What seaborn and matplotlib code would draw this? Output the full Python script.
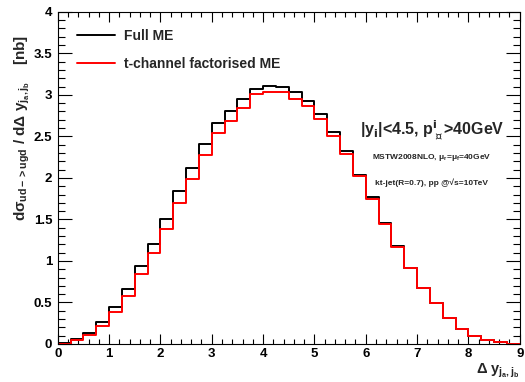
import numpy as np
import pandas as pd
import matplotlib
matplotlib.use("Agg")
import matplotlib.pyplot as plt
from matplotlib.lines import Line2D
from matplotlib.ticker import MultipleLocator
import seaborn as sns

# ---------------- data -----------------------------------------
bin_edges = np.arange(0, 9.001, 0.25)          # 36 bins of width 0.25 in delta y
full_me = [0.01, 0.06, 0.13, 0.27, 0.45, 0.66, 0.94, 1.20, 1.51, 1.84,
           2.12, 2.41, 2.66, 2.80, 2.95, 3.07, 3.11, 3.10, 3.03, 2.93,
           2.77, 2.55, 2.33, 2.03, 1.77, 1.46, 1.18, 0.91, 0.68, 0.49,
           0.31, 0.18, 0.10, 0.05, 0.02, 0.005]
tchan_me = [0.005, 0.05, 0.11, 0.22, 0.39, 0.58, 0.84, 1.09, 1.39, 1.70,
            1.99, 2.28, 2.54, 2.69, 2.84, 3.01, 3.03, 3.04, 2.95, 2.87,
            2.71, 2.50, 2.29, 2.02, 1.75, 1.45, 1.17, 0.91, 0.68, 0.49,
            0.31, 0.18, 0.10, 0.05, 0.02, 0.005]
series_names = ["Full ME", "t-channel factorised ME"]
series_colors = ["black", "red"]

centers = (bin_edges[:-1] + bin_edges[1:]) / 2
df = pd.DataFrame({
    "dy": np.concatenate([centers, centers]),
    "xsec": np.concatenate([full_me, tchan_me]),
    "series": [series_names[0]] * len(centers) + [series_names[1]] * len(centers),
})

# ---------------- style -----------------
sns.set_theme(style="ticks")
plt.rcParams["font.family"] = ["Liberation Sans", "DejaVu Sans"]
plt.rcParams["font.weight"] = "bold"
plt.rcParams["mathtext.fontset"] = "custom"
plt.rcParams["mathtext.rm"] = "Liberation Sans:bold"
plt.rcParams["mathtext.it"] = "Liberation Sans:bold"
plt.rcParams["mathtext.bf"] = "Liberation Sans:bold"
plt.rcParams["mathtext.sf"] = "Liberation Sans:bold"

fig, ax = plt.subplots(figsize=(5.25, 3.82), dpi=100)
fig.subplots_adjust(left=0.110, right=0.990, top=0.969, bottom=0.0995)

for name, col in zip(series_names, series_colors):
    sns.histplot(data=df[df["series"] == name], x="dy", weights="xsec",
                 binwidth=0.25, binrange=(bin_edges[0], bin_edges[-1]),
                 element="step", fill=False, stat="count",
                 color=col, linewidth=1.4, ax=ax)

ax.set_xlim(0, 9)
ax.set_ylim(0, 4)
ax.xaxis.set_major_locator(MultipleLocator(1))
ax.xaxis.set_minor_locator(MultipleLocator(0.2))
ax.yaxis.set_major_locator(MultipleLocator(0.5))
ax.yaxis.set_minor_locator(MultipleLocator(0.1))
ax.set_yticks(np.arange(0, 4.01, 0.5))
ax.set_yticklabels(["0", "0.5", "1", "1.5", "2", "2.5", "3", "3.5", "4"])

ax.tick_params(axis="both", which="both", direction="in", top=True, right=True,
               colors="black", labelsize=9.5, width=0.8)
ax.tick_params(axis="x", which="major", length=7.2, pad=3)
ax.tick_params(axis="x", which="minor", length=3.6)
ax.tick_params(axis="y", which="major", length=10, pad=4)
ax.tick_params(axis="y", which="minor", length=5)
for lab in ax.get_xticklabels() + ax.get_yticklabels():
    lab.set_fontweight("bold")
for sp in ax.spines.values():
    sp.set_color("black")
    sp.set_linewidth(0.8)

ax.set_ylabel(r"d$\sigma_{ud->ugd}$ / d$\Delta$ y$_{j_a, j_b}$    [nb]",
              loc="top", fontsize=11, fontweight="bold")
ax.yaxis.set_label_coords(-0.055, 0.93)
ax.set_xlabel(r"$\Delta$ y$_{j_a, j_b}$", loc="right", fontsize=10.5,
              fontweight="bold", labelpad=1)

handles = [Line2D([], [], color=c, lw=1.4) for c in series_colors]
ax.legend(handles, series_names, loc="upper left", bbox_to_anchor=(0.015, 0.985),
          frameon=False, handlelength=2.7, handletextpad=0.7, labelspacing=0.95,
          prop={"weight": "bold", "size": 10})

# the perp sign is not in Liberation Sans, so this label uses DejaVu for its math parts
ax.text(7.29, 2.58, r"|y$_\mathbf{i}$|<4.5, p$_{\perp}^{\mathbf{i}}$>40GeV", ha="center",
        va="center", fontsize=11.5, fontweight="bold", math_fontfamily="dejavusans")
ax.text(7.29, 2.24, r"MSTW2008NLO, $\mu_r$=$\mu_f$=40GeV", ha="center", va="center",
        fontsize=6, fontweight="bold")
ax.text(7.29, 1.94, "kt-jet(R=0.7), pp @\u221as=10TeV", ha="center", va="center",
        fontsize=6, fontweight="bold")

fig.savefig("out.png", dpi=100)
